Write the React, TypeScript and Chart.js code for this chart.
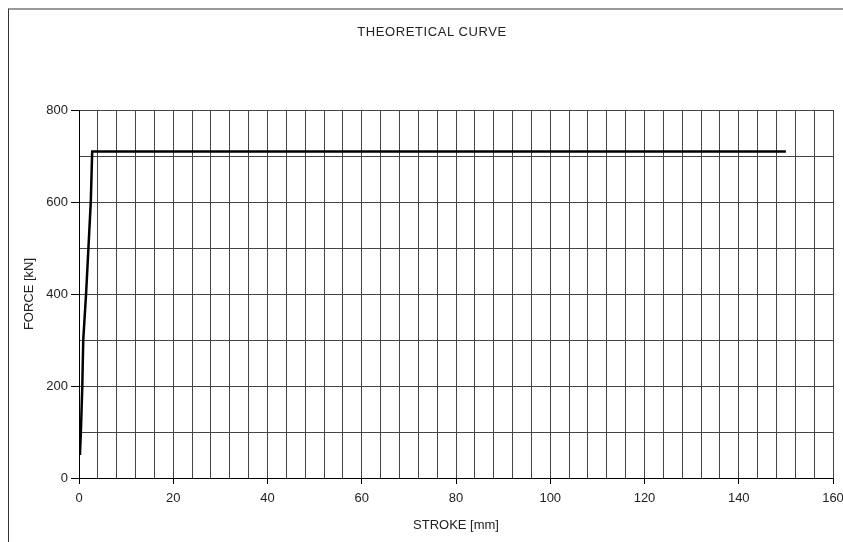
import React, { useEffect, useRef } from "react";
import { Chart, registerables } from "chart.js";

Chart.register(...registerables);

const chartTitle = "THEORETICAL CURVE";
const xAxisTitle = "STROKE [mm]";
const yAxisTitle = "FORCE [kN]";

const strokeValues = [0.2, 0.4, 0.7, 0.9, 1.5, 2.0, 2.5, 2.8, 150];
const forceValues = [50, 100, 200, 300, 400, 500, 600, 710, 710];

const xMin = 0;
const xMax = 160;
const xGridStep = 4;
const xLabelStep = 20;
const yMin = 0;
const yMax = 800;
const yGridStep = 100;
const yLabelStep = 200;

const FONT = "'Liberation Sans', Arial, sans-serif";

export default function App() {
  const canvasRef = useRef<HTMLCanvasElement | null>(null);

  useEffect(() => {
    const canvas = canvasRef.current;
    if (!canvas) return;
    const points = strokeValues.map((x, i) => ({ x, y: forceValues[i] }));
    const chart = new Chart(canvas, {
      type: "line",
      data: {
        datasets: [
          {
            data: points,
            borderColor: "#000",
            borderWidth: 2.5,
            pointRadius: 0,
            tension: 0,
            fill: false,
          },
        ],
      },
      options: {
        animation: false,
        responsive: false,
        maintainAspectRatio: false,
        layout: { padding: { top: 110, right: 10, bottom: 0, left: 0 } },
        plugins: {
          legend: { display: false },
          title: { display: false },
          tooltip: { enabled: false },
        },
        scales: {
          x: {
            type: "linear",
            min: xMin,
            max: xMax,
            afterFit: (scale: any) => {
              scale.height = 64;
              scale.paddingRight = 0;
              scale.paddingLeft = 0;
            },
            ticks: {
              stepSize: xGridStep,
              autoSkip: false,
              maxRotation: 0,
              padding: 7,
              color: "#222",
              font: { family: FONT, size: 13 },
              callback: (v: any) => (Number(v) % xLabelStep === 0 ? String(v) : ""),
            },
            grid: {
              color: "#444",
              lineWidth: 1,
              tickLength: 6,
              tickColor: (ctx: any) =>
                ctx.tick && ctx.tick.value % xLabelStep === 0 ? "#000" : "rgba(0,0,0,0)",
            },
            border: { color: "#000", width: 1 },
            title: {
              display: true,
              text: xAxisTitle,
              color: "#222",
              font: { family: FONT, size: 13 },
              padding: { top: 0, bottom: 9 },
            },
          },
          y: {
            type: "linear",
            min: yMin,
            max: yMax,
            afterFit: (scale: any) => {
              scale.width = 79;
              scale.paddingTop = 0;
              scale.paddingBottom = 0;
            },
            ticks: {
              stepSize: yGridStep,
              autoSkip: false,
              padding: 3,
              color: "#222",
              font: { family: FONT, size: 13 },
              callback: (v: any) => (Number(v) % yLabelStep === 0 ? String(v) : ""),
            },
            grid: {
              color: "#444",
              lineWidth: 1,
              tickLength: 8,
              tickColor: (ctx: any) =>
                ctx.tick && ctx.tick.value % yLabelStep === 0 ? "#000" : "rgba(0,0,0,0)",
            },
            border: { color: "#000", width: 1 },
            title: {
              display: true,
              text: yAxisTitle,
              color: "#222",
              font: { family: FONT, size: 13 },
              padding: { top: 22, bottom: 0 },
            },
          },
        },
      },
    });
    return () => chart.destroy();
  }, []);

  return (
    <div
      style={{
        position: "absolute",
        left: 0,
        top: 0,
        width: 843,
        height: 542,
        overflow: "hidden",
        background: "#fff",
      }}
    >
      <div
        style={{
          position: "absolute",
          left: 8,
          top: 8,
          width: 900,
          height: 600,
          borderLeft: "1px solid #333",
          borderTop: "2px solid #999",
        }}
      />
      <canvas
        ref={canvasRef}
        width={843}
        height={542}
        style={{ position: "absolute", left: 0, top: 0, width: 843, height: 542 }}
      />
      <div
        style={{
          position: "absolute",
          left: 0,
          top: 23,
          width: 864,
          textAlign: "center",
          fontFamily: FONT,
          fontSize: 13,
          letterSpacing: "0.6px",
          lineHeight: "18px",
          color: "#222",
        }}
      >
        {chartTitle}
      </div>
    </div>
  );
}
